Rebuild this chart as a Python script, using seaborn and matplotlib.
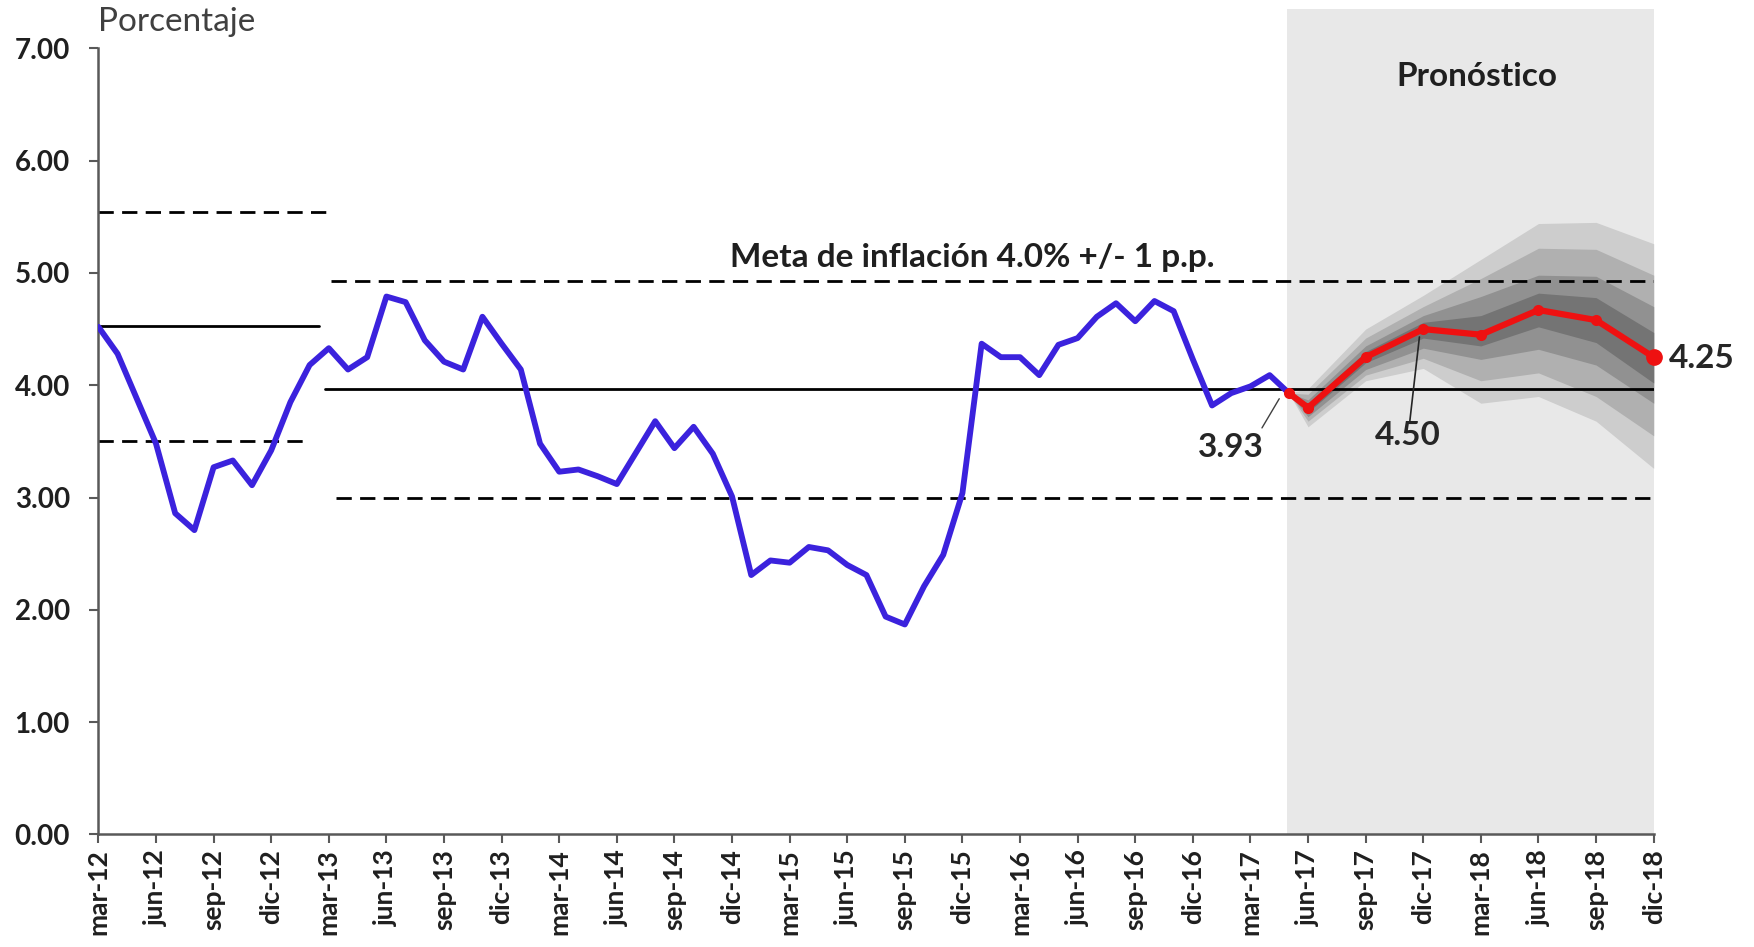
import matplotlib
matplotlib.use("Agg")
import matplotlib.pyplot as plt
import seaborn as sns
import pandas as pd

# datos: inflación observada (mensual, mar-12 = 0) y pronóstico
blue_vals = [4.52, 4.28, 3.88, 3.48, 2.86, 2.71, 3.27, 3.33, 3.11, 3.42,
             3.85, 4.18, 4.33, 4.14, 4.25, 4.79, 4.74, 4.40, 4.21, 4.14,
             4.61, 4.37, 4.14, 3.48, 3.23, 3.25, 3.19, 3.12, 3.40, 3.68,
             3.44, 3.63, 3.39, 3.01, 2.31, 2.44, 2.42, 2.56, 2.53, 2.40,
             2.31, 1.94, 1.87, 2.21, 2.49, 3.04, 4.37, 4.25, 4.25, 4.09,
             4.36, 4.42, 4.61, 4.73, 4.57, 4.75, 4.66, 4.23, 3.82, 3.93,
             3.99, 4.09, 3.93]
blue_idx = list(range(len(blue_vals)))

fc_idx = [62, 63, 66, 69, 72, 75, 78, 81]
fc_vals = [3.93, 3.80, 4.25, 4.50, 4.45, 4.67, 4.58, 4.25]

# bandas del fan chart (de la más externa a la más interna)
up3 = [3.93, 3.97, 4.50, 4.80, 5.12, 5.44, 5.45, 5.26]
up2 = [3.93, 3.92, 4.42, 4.70, 4.95, 5.22, 5.21, 4.98]
up1 = [3.93, 3.87, 4.35, 4.62, 4.79, 4.98, 4.97, 4.70]
up0 = [3.93, 3.84, 4.30, 4.56, 4.62, 4.82, 4.78, 4.47]
lo0 = [3.93, 3.76, 4.20, 4.42, 4.35, 4.52, 4.38, 4.02]
lo1 = [3.93, 3.72, 4.14, 4.33, 4.23, 4.32, 4.18, 3.84]
lo2 = [3.93, 3.68, 4.09, 4.24, 4.04, 4.11, 3.90, 3.55]
lo3 = [3.93, 3.63, 4.04, 4.15, 3.84, 3.90, 3.68, 3.26]

# metas de inflación: (inicio, fin, valor)
meta_2012 = [(0, 11.5, 4.53)]
meta_2012_band = [(0, 11.9, 5.54), (0, 10.8, 3.50)]
meta_2013 = [(11.8, 81, 3.97)]
meta_2013_band = [(12.1, 81, 4.93), (12.35, 81, 3.00)]

months = ["mar", "jun", "sep", "dic"]
years = ["12", "13", "14", "15", "16", "17", "18"]
tick_labels = [f"{m}-{y}" for y in years for m in months]
yticks = [0, 1, 2, 3, 4, 5, 6, 7]

sns.set_theme(style="white")
plt.rcParams["font.family"] = ["Lato", "DejaVu Sans"]

fig = plt.figure(figsize=(17.54, 9.47), dpi=100)
ax = fig.add_axes([0.0561, 0.1188, 0.8867, 0.8717])

# zona de pronóstico
ax.axvspan(61.9, 81, ymin=0, ymax=1, color="#e8e8e8", zorder=0, lw=0)

fan_colors = ["#cdcdcd", "#b0b0b0", "#919191", "#747474"]
for (u, l), c in zip([(up3, lo3), (up2, lo2), (up1, lo1), (up0, lo0)], fan_colors):
    ax.fill_between(fc_idx, l, u, color=c, lw=0, zorder=1)

for a, b, v in meta_2012 + meta_2013:
    ax.plot([a, b], [v, v], color="black", lw=2.0, zorder=2)
for a, b, v in meta_2012_band + meta_2013_band:
    ax.plot([a, b], [v, v], color="black", lw=2.0, dashes=(5.5, 3), zorder=2)

df_obs = pd.DataFrame({"mes": blue_idx, "inflacion": blue_vals})
df_fc = pd.DataFrame({"mes": fc_idx, "inflacion": fc_vals})
sns.lineplot(data=df_obs, x="mes", y="inflacion", color="#3b22dd", lw=4.2, ax=ax, zorder=3)
sns.lineplot(data=df_fc, x="mes", y="inflacion", color="#ee1111", lw=4.5,
             marker="o", markersize=8, markeredgewidth=0, ax=ax, zorder=4)
ax.plot(fc_idx[-1], fc_vals[-1], "o", color="#ee1111", ms=11, clip_on=False, zorder=5)

ax.set_xlim(0, 81)
ax.set_ylim(0, 7.35)
ax.set_xlabel("")
ax.set_ylabel("")
ax.set_xticks(range(0, 82, 3))
ax.set_xticklabels(tick_labels, rotation=90, fontsize=19, fontweight="bold", color="#1f1f1f")
ax.set_yticks(yticks)
ax.set_yticklabels([f"{v:.2f}" for v in yticks], fontsize=20, fontweight="bold", color="#1f1f1f")
ax.tick_params(axis="both", direction="out", length=6.5, width=1.5, color="#595959",
               left=True, bottom=True, pad=4)
ax.tick_params(axis="y", pad=14)
sns.despine(ax=ax)
for s in ["left", "bottom"]:
    ax.spines[s].set_color("#595959")
    ax.spines[s].set_linewidth(1.8)
ax.spines["left"].set_bounds(0, 7)

fig.text(0.056, 0.977, "Porcentaje", fontsize=24, color="#404040", va="center")

ax.text(45.5, 5.14, "Meta de inflación 4.0% +/- 1 p.p.", fontsize=24, fontweight="bold",
        ha="center", va="center", color="#1f1f1f")
ax.text(71.8, 6.75, "Pronóstico", fontsize=24, fontweight="bold", ha="center",
        va="center", color="#1f1f1f")

ax.plot([60.6, 61.5], [3.62, 3.88], color="#404040", lw=1)
ax.text(59.0, 3.45, "3.93", fontsize=24, fontweight="bold", ha="center", va="center", color="#262626")
ax.plot([68.3, 68.8], [3.68, 4.43], color="#262626", lw=1.2)
ax.text(68.2, 3.55, "4.50", fontsize=24, fontweight="bold", ha="center", va="center", color="#262626")
ax.text(81.8, 4.24, "4.25", fontsize=24, fontweight="bold", ha="left", va="center", color="#262626")

fig.savefig("out.png", dpi=100)
